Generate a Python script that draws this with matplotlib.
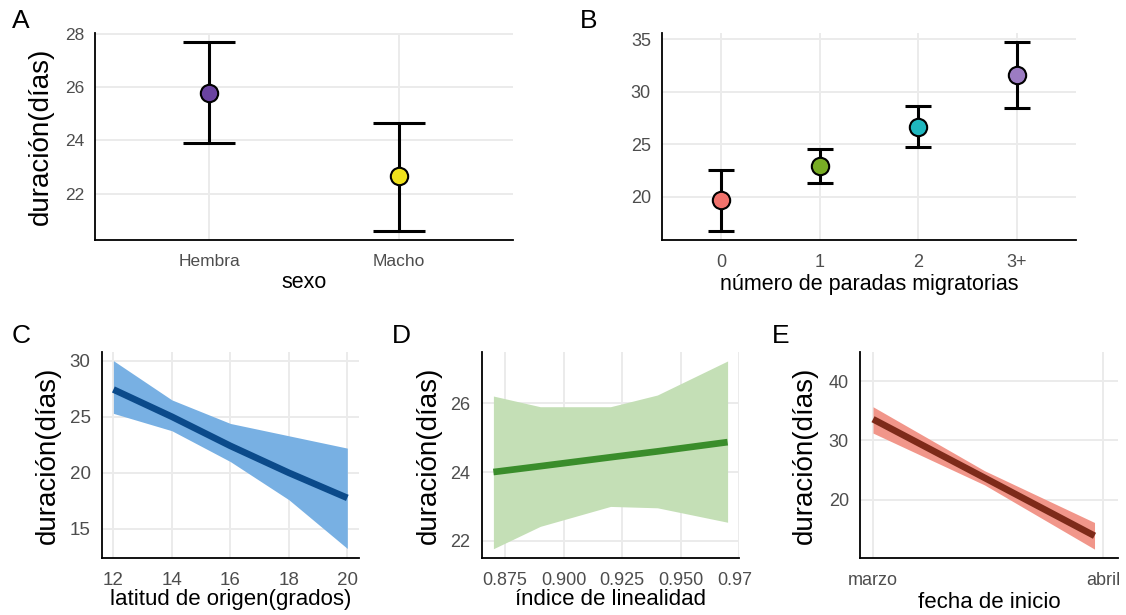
import matplotlib
matplotlib.use("Agg")
import matplotlib.pyplot as plt
from matplotlib.transforms import Bbox

plt.rcParams['font.family'] = ['Liberation Sans', 'DejaVu Sans']

# ---- data ----
sexo = ["Hembra", "Macho"]
sexo_mean = [25.8, 22.65]
sexo_low = [23.9, 20.6]
sexo_high = [27.7, 24.65]
sexo_colors = ["#6A43A0", "#F0E21C"]

paradas = ["0", "1", "2", "3+"]
paradas_mean = [19.7, 22.95, 26.65, 31.55]
paradas_low = [16.77, 21.27, 24.7, 28.46]
paradas_high = [22.54, 24.56, 28.65, 34.7]
paradas_colors = ["#F0726C", "#78AC24", "#1FB7BF", "#9C7CC2"]

lat_x = [12, 14, 16, 18, 20]
lat_fit = [27.43, 25.0, 22.4, 20.0, 17.76]
lat_low = [25.3, 23.75, 21.0, 17.6, 13.25]
lat_high = [30.0, 26.5, 24.4, 23.3, 22.2]

lin_x = [0.87, 0.89, 0.92, 0.94, 0.97]
lin_fit = [24.0, 24.17, 24.43, 24.6, 24.87]
lin_low = [21.77, 22.42, 23.0, 22.96, 22.54]
lin_high = [26.21, 25.9, 25.9, 26.24, 27.23]

fecha_x = [0, 15, 29.8]          # days since 1 March
fecha_fit = [33.6, 23.7, 13.9]
fecha_low = [31.25, 22.5, 11.65]
fecha_high = [35.7, 24.9, 16.15]
fecha_ticks = [0, 31]
fecha_ticklabels = ["marzo", "abril"]

W, H = 1126, 615
fig = plt.figure(figsize=(W / 100, H / 100), dpi=100)


def make_ax(l, t, r, b):
    return fig.add_axes([l / W, 1 - b / H, (r - l) / W, (b - t) / H])


GRID = "#EBEBEB"
TICKC = "#4D4D4D"


def style(ax, ticksize=13):
    for s in ["top", "right"]:
        ax.spines[s].set_visible(False)
    for s in ["left", "bottom"]:
        ax.spines[s].set_color("black")
        ax.spines[s].set_linewidth(1.3)
    ax.grid(True, color=GRID, linewidth=1.4, zorder=0)
    ax.set_axisbelow(True)
    ax.tick_params(length=0, labelsize=ticksize, labelcolor=TICKC)
    ax.tick_params(axis="x", pad=10)
    ax.tick_params(axis="y", pad=8)


def panel_label(txt, x, y):
    fig.text(x / W, 1 - y / H, txt, fontsize=19, ha="left", va="top")


YLAB = "duración(días)"

# ---- A ----
axA = make_ax(95, 33, 513, 240)
style(axA, 12.5)
xa = list(range(1, len(sexo) + 1))
for i in range(len(sexo)):
    axA.errorbar(xa[i], sexo_mean[i],
                 yerr=[[sexo_mean[i] - sexo_low[i]], [sexo_high[i] - sexo_mean[i]]],
                 fmt="none", ecolor="black", elinewidth=2.2, capsize=19, capthick=2.2, zorder=3)
    axA.plot(xa[i], sexo_mean[i], "o", ms=12.5, mfc=sexo_colors[i], mec="black", mew=1.5, zorder=4)
axA.set_xlim(0.4, 2.6)
axA.set_ylim(20.25, 28.05)
axA.set_xticks(xa)
axA.set_xticklabels(sexo)
axA.set_yticks([22, 24, 26, 28])
axA.set_xlabel("sexo", fontsize=15.5, labelpad=2)
axA.set_ylabel(YLAB, fontsize=20, labelpad=8)
panel_label("A", 12, 9)

# ---- B ----
axB = make_ax(662, 33, 1076, 240)
style(axB, 13)
xb = list(range(1, len(paradas) + 1))
for i in range(len(paradas)):
    axB.errorbar(xb[i], paradas_mean[i],
                 yerr=[[paradas_mean[i] - paradas_low[i]], [paradas_high[i] - paradas_mean[i]]],
                 fmt="none", ecolor="black", elinewidth=2.2, capsize=9.5, capthick=2.2, zorder=3)
    axB.plot(xb[i], paradas_mean[i], "o", ms=12.5, mfc=paradas_colors[i], mec="black", mew=1.5, zorder=4)
axB.set_xlim(0.4, 4.6)
axB.set_ylim(15.87, 35.6)
axB.set_xticks(xb)
axB.set_xticklabels(paradas)
axB.set_yticks([20, 25, 30, 35])
axB.set_xlabel("número de paradas migratorias", fontsize=15.5, labelpad=2)
panel_label("B", 580, 9)

# ---- C ----
axC = make_ax(101.7, 351.7, 359, 558)
style(axC, 13.5)
axC.fill_between(lat_x, lat_low, lat_high, color="#78B0E3", lw=0, zorder=2)
axC.plot(lat_x, lat_fit, color="#0B4A8A", lw=4.8, zorder=3, solid_capstyle="butt")
axC.set_xlim(11.6, 20.4)
axC.set_ylim(12.4, 30.8)
axC.set_xticks([12, 14, 16, 18, 20])
axC.set_yticks([15, 20, 25, 30])
axC.set_xlabel("latitud de origen(grados)", fontsize=16, labelpad=0)
axC.set_ylabel(YLAB, fontsize=20, labelpad=6)
panel_label("C", 12, 324)

# ---- D ----
axD = make_ax(481.7, 351.7, 739.3, 558)
style(axD, 13)
axD.fill_between(lin_x, lin_low, lin_high, color="#C4DFB6", lw=0, zorder=2)
axD.plot(lin_x, lin_fit, color="#3A8D2B", lw=4.8, zorder=3, solid_capstyle="butt")
axD.set_xlim(0.865, 0.975)
axD.set_ylim(21.5, 27.5)
axD.set_xticks([0.875, 0.900, 0.925, 0.950, 0.975])
axD.set_xticklabels(["0.875", "0.900", "0.925", "0.950", "0.975"])
axD.set_yticks([22, 24, 26])
axD.set_xlabel("índice de linealidad", fontsize=16, labelpad=0)
axD.set_ylabel(YLAB, fontsize=20, labelpad=6)
panel_label("D", 392, 324)
clipD = Bbox.from_extents(0, 0, 752, H)
for lab in axD.get_xticklabels():
    lab.set_clip_on(True)
    lab.set_clip_box(clipD)

# ---- E ----
axE = make_ax(860, 351.7, 1118.3, 558.3)
style(axE, 13)
axE.fill_between(fecha_x, fecha_low, fecha_high, color="#F1968A", lw=0, zorder=2)
axE.plot(fecha_x, fecha_fit, color="#7E2A19", lw=4.8, zorder=3, solid_capstyle="butt")
axE.set_xlim(-1.75, 33.0)
axE.set_ylim(10.1, 45.0)
axE.set_xticks(fecha_ticks)
axE.set_xticklabels(fecha_ticklabels)
axE.set_yticks([20, 30, 40])
axE.set_xlabel("fecha de inicio", fontsize=16, labelpad=2)
axE.set_ylabel(YLAB, fontsize=20, labelpad=8)
panel_label("E", 772, 324)

fig.savefig("out.png", dpi=100)
